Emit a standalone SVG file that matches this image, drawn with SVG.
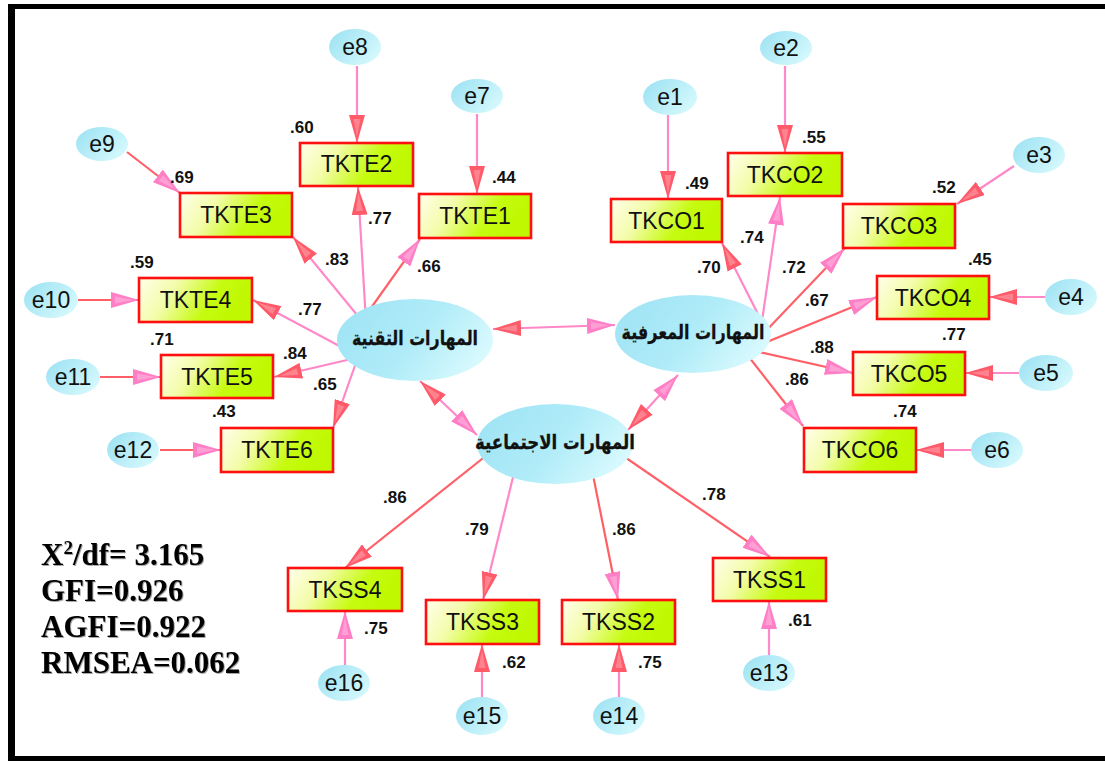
<svg xmlns="http://www.w3.org/2000/svg" width="1105" height="762" viewBox="0 0 1105 762">
  <defs>
    <style>
      .box rect { stroke: #ff1010; stroke-width: 2.6; fill: url(#boxFill); }
      .box text { font-family: "Liberation Sans", Arial, sans-serif; font-size: 23px; fill: #111; text-anchor: middle; }
      .err ellipse { fill: url(#errFill); }
      .err text { font-family: "Liberation Sans", Arial, sans-serif; font-size: 23px; fill: #111; text-anchor: middle; }
      .lat ellipse { fill: url(#latFill); }
      .lat text { font-family: "DejaVu Sans", sans-serif; font-weight: bold; font-size: 20px; fill: #111; stroke: #111; stroke-width: 0.3; text-anchor: middle; }
      .lr { stroke: #ff6068; stroke-width: 2.2; fill: none; }
      .lp { stroke: #ff88c8; stroke-width: 2.2; fill: none; }
      .val text { font-family: "Liberation Sans", Arial, sans-serif; font-weight: bold; font-size: 17px; fill: #111; }
      .fit text { font-family: "Liberation Serif", "Times New Roman", serif; font-weight: bold; font-size: 31px; fill: #000; }
    </style>
    <linearGradient id="boxFill" x1="0" y1="0" x2="1" y2="0.25">
      <stop offset="0" stop-color="#ffffec"/>
      <stop offset="0.35" stop-color="#f3fca8"/>
      <stop offset="0.72" stop-color="#c6fb10"/>
      <stop offset="1" stop-color="#bff800"/>
    </linearGradient>
    <linearGradient id="errFill" x1="0" y1="0.2" x2="1" y2="0.8">
      <stop offset="0" stop-color="#9fe3f3"/>
      <stop offset="1" stop-color="#d8fafd"/>
    </linearGradient>
    <linearGradient id="latFill" x1="0" y1="0.3" x2="1" y2="0.7">
      <stop offset="0" stop-color="#a0e4f5"/>
      <stop offset="0.5" stop-color="#b0ecf8"/>
      <stop offset="1" stop-color="#dcfbfe"/>
    </linearGradient>
    <marker id="hr" viewBox="0 0 28 16" markerUnits="userSpaceOnUse" markerWidth="28" markerHeight="16" refX="28" refY="8" orient="auto-start-reverse">
      <path d="M0,0 L28,8 L0,16 Z" fill="#ff5a6a"/>
      <path d="M4,4.5 L22,8 L4,11.5 Z" fill="#ffffff" fill-opacity="0.25"/>
    </marker>
    <marker id="hp" viewBox="0 0 28 16" markerUnits="userSpaceOnUse" markerWidth="28" markerHeight="16" refX="28" refY="8" orient="auto-start-reverse">
      <path d="M0,0 L28,8 L0,16 Z" fill="#ff7fc6"/>
      <path d="M4,4.5 L22,8 L4,11.5 Z" fill="#ffffff" fill-opacity="0.25"/>
    </marker>
    <filter id="soft" x="-10%" y="-10%" width="120%" height="130%">
      <feDropShadow dx="1" dy="1" stdDeviation="0.6" flood-color="#000" flood-opacity="0.35"/>
    </filter>
  </defs>

  <rect width="1105" height="762" fill="#ffffff"/>

  <!-- frame -->
  <g id="frame" fill="#000">
    <rect x="8" y="4" width="1097" height="5"/>
    <rect x="8" y="4" width="7" height="757"/>
    <rect x="8" y="756" width="1097" height="5"/>
  </g>

  <!-- connectors -->
  <g id="connectors">
    <!-- technical skills factor -->
    <line class="lp" x1="362" y1="321" x2="293" y2="237" marker-end="url(#hr)"/>
    <line class="lp" x1="366" y1="322" x2="358" y2="187" marker-end="url(#hr)"/>
    <line class="lr" x1="366" y1="315" x2="420" y2="239" marker-end="url(#hp)"/>
    <line class="lp" x1="360" y1="357" x2="253" y2="300" marker-end="url(#hr)"/>
    <line class="lp" x1="360" y1="357" x2="274" y2="377" marker-end="url(#hr)"/>
    <line class="lp" x1="358" y1="357" x2="333" y2="428" marker-end="url(#hr)"/>
    <line class="lr" x1="127" y1="152" x2="180" y2="193" marker-end="url(#hp)"/>
    <line class="lp" x1="357" y1="66" x2="357" y2="143" marker-end="url(#hr)"/>
    <line class="lp" x1="477" y1="114" x2="477" y2="194" marker-end="url(#hr)"/>
    <line class="lr" x1="78" y1="300" x2="139" y2="300" marker-end="url(#hp)"/>
    <line class="lr" x1="100" y1="377" x2="161" y2="377" marker-end="url(#hp)"/>
    <line class="lr" x1="160" y1="450" x2="221" y2="450" marker-end="url(#hp)"/>

    <!-- cognitive skills factor -->
    <line class="lp" x1="760" y1="318" x2="722" y2="243" marker-end="url(#hr)"/>
    <line class="lp" x1="760" y1="335" x2="780" y2="197" marker-end="url(#hp)"/>
    <line class="lr" x1="762" y1="335" x2="845" y2="248" marker-end="url(#hp)"/>
    <line class="lr" x1="762" y1="344" x2="877" y2="297" marker-end="url(#hp)"/>
    <line class="lr" x1="755" y1="351" x2="853" y2="373" marker-end="url(#hp)"/>
    <line class="lr" x1="745" y1="352" x2="803" y2="426" marker-end="url(#hp)"/>
    <line class="lp" x1="668" y1="115" x2="668" y2="199" marker-end="url(#hr)"/>
    <line class="lp" x1="785" y1="66" x2="785" y2="153" marker-end="url(#hr)"/>
    <line class="lp" x1="1014" y1="166" x2="957" y2="204" marker-end="url(#hr)"/>
    <line class="lp" x1="1045" y1="297" x2="989" y2="297" marker-end="url(#hr)"/>
    <line class="lp" x1="1019" y1="373" x2="965" y2="373" marker-end="url(#hr)"/>
    <line class="lp" x1="971" y1="450" x2="916" y2="450" marker-end="url(#hr)"/>

    <!-- factor covariances -->
    <line class="lp" x1="493" y1="329" x2="615" y2="325" marker-start="url(#hr)" marker-end="url(#hp)"/>
    <line class="lp" x1="420" y1="381" x2="477" y2="435" marker-start="url(#hr)" marker-end="url(#hp)"/>
    <line class="lp" x1="678" y1="375" x2="628" y2="430" marker-start="url(#hp)" marker-end="url(#hr)"/>

    <!-- social skills factor -->
    <line class="lr" x1="492" y1="451" x2="345" y2="568" marker-end="url(#hr)"/>
    <line class="lp" x1="516" y1="465" x2="483" y2="600" marker-end="url(#hr)"/>
    <line class="lr" x1="591" y1="465" x2="618" y2="600" marker-end="url(#hp)"/>
    <line class="lr" x1="616" y1="451" x2="770" y2="557" marker-end="url(#hp)"/>
    <line class="lp" x1="345" y1="665" x2="345" y2="611" marker-end="url(#hp)"/>
    <line class="lp" x1="482" y1="698" x2="482" y2="644" marker-end="url(#hr)"/>
    <line class="lp" x1="619" y1="698" x2="619" y2="644" marker-end="url(#hr)"/>
    <line class="lp" x1="769" y1="655" x2="769" y2="601" marker-end="url(#hp)"/>
  </g>

  <!-- latent factors -->
  <g id="lat-technical" class="lat">
    <ellipse cx="415" cy="340" rx="78" ry="41"/>
    <text x="415" y="345" textLength="126" lengthAdjust="spacingAndGlyphs">المهارات التقنية</text>
  </g>
  <g id="lat-cognitive" class="lat">
    <ellipse cx="693" cy="334" rx="78" ry="39"/>
    <text x="693" y="339" textLength="143" lengthAdjust="spacingAndGlyphs">المهارات المعرفية</text>
  </g>
  <g id="lat-social" class="lat">
    <ellipse cx="555" cy="444" rx="78" ry="40"/>
    <text x="555" y="449" textLength="160" lengthAdjust="spacingAndGlyphs">المهارات الاجتماعية</text>
  </g>

  <!-- observed indicators -->
  <g id="TKTE2" class="box"><rect x="300" y="143" width="113" height="43"/><text x="356.5" y="172">TKTE2</text></g>
  <g id="TKTE3" class="box"><rect x="180" y="193" width="112" height="44"/><text x="236" y="223">TKTE3</text></g>
  <g id="TKTE1" class="box"><rect x="419" y="194" width="112" height="44"/><text x="475" y="224">TKTE1</text></g>
  <g id="TKTE4" class="box"><rect x="139" y="278" width="113" height="44"/><text x="195.5" y="308">TKTE4</text></g>
  <g id="TKTE5" class="box"><rect x="161" y="355" width="112" height="43"/><text x="217" y="385">TKTE5</text></g>
  <g id="TKTE6" class="box"><rect x="221" y="428" width="112" height="44"/><text x="277" y="458">TKTE6</text></g>
  <g id="TKCO1" class="box"><rect x="611" y="199" width="111" height="43"/><text x="666.5" y="229">TKCO1</text></g>
  <g id="TKCO2" class="box"><rect x="728" y="153" width="114" height="43"/><text x="785" y="183">TKCO2</text></g>
  <g id="TKCO3" class="box"><rect x="843" y="204" width="112" height="44"/><text x="899" y="234">TKCO3</text></g>
  <g id="TKCO4" class="box"><rect x="877" y="276" width="112" height="43"/><text x="933" y="306">TKCO4</text></g>
  <g id="TKCO5" class="box"><rect x="853" y="352" width="112" height="43"/><text x="909" y="382">TKCO5</text></g>
  <g id="TKCO6" class="box"><rect x="804" y="428" width="112" height="44"/><text x="860" y="458">TKCO6</text></g>
  <g id="TKSS4" class="box"><rect x="288" y="568" width="114" height="43"/><text x="345" y="598">TKSS4</text></g>
  <g id="TKSS3" class="box"><rect x="426" y="600" width="113" height="44"/><text x="482.5" y="630">TKSS3</text></g>
  <g id="TKSS2" class="box"><rect x="562" y="600" width="113" height="44"/><text x="618.5" y="630">TKSS2</text></g>
  <g id="TKSS1" class="box"><rect x="713" y="558" width="113" height="43"/><text x="769.5" y="588">TKSS1</text></g>

  <!-- error terms -->
  <g id="e1" class="err"><ellipse cx="670" cy="97" rx="27" ry="18"/><text x="670" y="105">e1</text></g>
  <g id="e2" class="err"><ellipse cx="786" cy="48" rx="26" ry="17"/><text x="786" y="56">e2</text></g>
  <g id="e3" class="err"><ellipse cx="1039" cy="155" rx="26" ry="18"/><text x="1039" y="163">e3</text></g>
  <g id="e4" class="err"><ellipse cx="1071" cy="297" rx="26" ry="18"/><text x="1071" y="305">e4</text></g>
  <g id="e5" class="err"><ellipse cx="1046" cy="373" rx="27" ry="18"/><text x="1046" y="381">e5</text></g>
  <g id="e6" class="err"><ellipse cx="997" cy="450" rx="26" ry="18"/><text x="997" y="458">e6</text></g>
  <g id="e7" class="err"><ellipse cx="477" cy="96" rx="26" ry="17"/><text x="477" y="104">e7</text></g>
  <g id="e8" class="err"><ellipse cx="355" cy="47" rx="26" ry="18"/><text x="355" y="55">e8</text></g>
  <g id="e9" class="err"><ellipse cx="102" cy="144" rx="26" ry="17"/><text x="102" y="152">e9</text></g>
  <g id="e10" class="err"><ellipse cx="51" cy="300" rx="27" ry="18"/><text x="51" y="308">e10</text></g>
  <g id="e11" class="err"><ellipse cx="73" cy="377" rx="27" ry="18"/><text x="73" y="385">e11</text></g>
  <g id="e12" class="err"><ellipse cx="133" cy="450" rx="26" ry="18"/><text x="133" y="458">e12</text></g>
  <g id="e13" class="err"><ellipse cx="769" cy="673" rx="26" ry="18"/><text x="769" y="681">e13</text></g>
  <g id="e14" class="err"><ellipse cx="619" cy="716" rx="26" ry="19"/><text x="619" y="724">e14</text></g>
  <g id="e15" class="err"><ellipse cx="482" cy="716" rx="26" ry="19"/><text x="482" y="724">e15</text></g>
  <g id="e16" class="err"><ellipse cx="344" cy="683" rx="26" ry="18"/><text x="344" y="691">e16</text></g>

  <!-- estimates -->
  <g id="estimates" class="val">
    <text x="290" y="133">.60</text>
    <text x="170" y="183">.69</text>
    <text x="492" y="183">.44</text>
    <text x="368" y="224">.77</text>
    <text x="325" y="265">.83</text>
    <text x="417" y="272">.66</text>
    <text x="130" y="268">.59</text>
    <text x="298" y="315">.77</text>
    <text x="150" y="345">.71</text>
    <text x="283" y="359">.84</text>
    <text x="313" y="390">.65</text>
    <text x="212" y="417">.43</text>
    <text x="685" y="189">.49</text>
    <text x="802" y="143">.55</text>
    <text x="932" y="193">.52</text>
    <text x="740" y="243">.74</text>
    <text x="697" y="273">.70</text>
    <text x="782" y="273">.72</text>
    <text x="968" y="265">.45</text>
    <text x="805" y="306">.67</text>
    <text x="942" y="340">.77</text>
    <text x="810" y="353">.88</text>
    <text x="785" y="385">.86</text>
    <text x="893" y="417">.74</text>
    <text x="383" y="503">.86</text>
    <text x="702" y="500">.78</text>
    <text x="465" y="535">.79</text>
    <text x="612" y="535">.86</text>
    <text x="364" y="634">.75</text>
    <text x="502" y="668">.62</text>
    <text x="638" y="668">.75</text>
    <text x="788" y="626">.61</text>
  </g>

  <!-- fit indices -->
  <g id="fit" class="fit" filter="url(#soft)">
    <text x="41" y="565">X<tspan font-size="19" dy="-11">2</tspan><tspan dy="11">/df= 3.165</tspan></text>
    <text x="41" y="601">GFI=0.926</text>
    <text x="41" y="637">AGFI=0.922</text>
    <text x="41" y="673">RMSEA=0.062</text>
  </g>
</svg>
